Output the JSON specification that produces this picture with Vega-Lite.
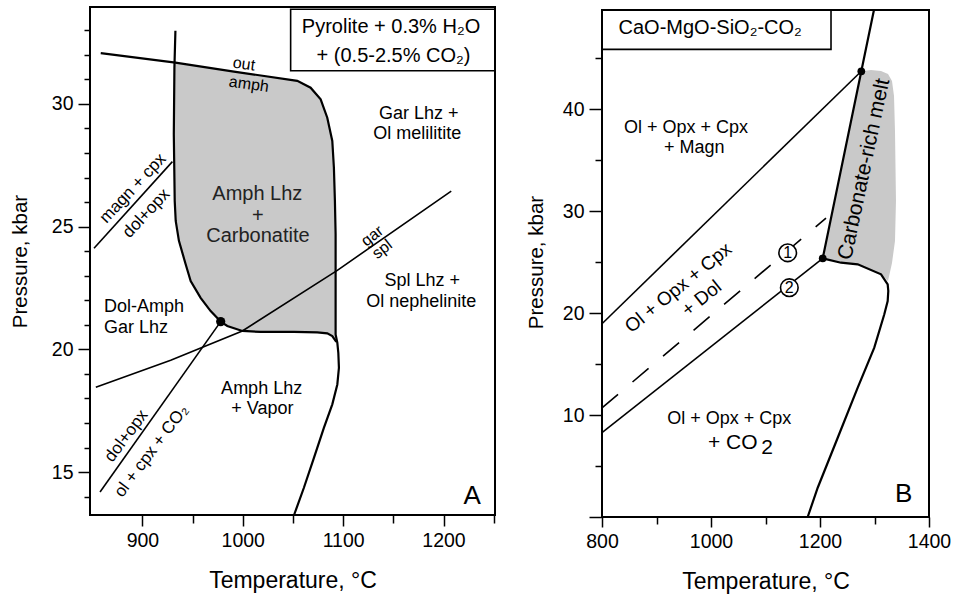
{
  "$schema": "https://vega.github.io/schema/vega-lite/v6.json",
  "background": "white",
  "padding": {"left": 10, "top": 5, "right": 5, "bottom": 5},
  "spacing": 107,
  "bounds": "flush",
  "config": {
    "font": "Liberation Sans",
    "view": {"stroke": null},
    "axis": {
      "domain": false, "grid": false, "tickColor": "black", "tickWidth": 1.5,
      "labelFont": "Liberation Sans", "labelFontSize": 19.5, "labelColor": "black",
      "labelOverlap": false, "labelFlush": false, "tickCount": 200,
      "titleFont": "Liberation Sans", "titleFontWeight": "normal", "titleColor": "black"
    }
  },
  "datasets": {
    "leftLines": [
      {"curve": "amph", "i": 0, "T": 858.5, "P": 32.07},
      {"curve": "amph", "i": 1, "T": 932.9, "P": 31.68},
      {"curve": "amph", "i": 2, "T": 991.2, "P": 31.32},
      {"curve": "amph", "i": 3, "T": 1054.3, "P": 30.94},
      {"curve": "amph", "i": 4, "T": 1067.6, "P": 30.66},
      {"curve": "amph", "i": 5, "T": 1077.6, "P": 30.19},
      {"curve": "amph", "i": 6, "T": 1084.2, "P": 29.44},
      {"curve": "amph", "i": 7, "T": 1089.2, "P": 28.49},
      {"curve": "amph", "i": 8, "T": 1090.8, "P": 27.40},
      {"curve": "amph", "i": 9, "T": 1091.8, "P": 26.05},
      {"curve": "amph", "i": 10, "T": 1092.5, "P": 24.69},
      {"curve": "amph", "i": 11, "T": 1092.5, "P": 21.97},
      {"curve": "amph", "i": 12, "T": 1092.5, "P": 20.61},
      {"curve": "amph", "i": 13, "T": 1094.2, "P": 20.27},
      {"curve": "amph", "i": 14, "T": 1095.2, "P": 19.86},
      {"curve": "amph", "i": 15, "T": 1095.8, "P": 19.25},
      {"curve": "amph", "i": 16, "T": 1094.2, "P": 18.57},
      {"curve": "amph", "i": 17, "T": 1089.2, "P": 17.76},
      {"curve": "amph", "i": 18, "T": 1080.8, "P": 16.80},
      {"curve": "amph", "i": 19, "T": 1070.9, "P": 15.58},
      {"curve": "amph", "i": 20, "T": 1060.9, "P": 14.36},
      {"curve": "amph", "i": 21, "T": 1051.1, "P": 13.25},
      {"curve": "left", "i": 0, "T": 932.9, "P": 32.98},
      {"curve": "left", "i": 1, "T": 931.9, "P": 31.48},
      {"curve": "left", "i": 2, "T": 931.3, "P": 28.76},
      {"curve": "left", "i": 3, "T": 932.2, "P": 26.05},
      {"curve": "left", "i": 4, "T": 933.2, "P": 25.23},
      {"curve": "left", "i": 5, "T": 936.4, "P": 24.42},
      {"curve": "left", "i": 6, "T": 943.1, "P": 23.47},
      {"curve": "left", "i": 7, "T": 948.1, "P": 22.78},
      {"curve": "left", "i": 8, "T": 958.0, "P": 22.10},
      {"curve": "left", "i": 9, "T": 968.0, "P": 21.56},
      {"curve": "left", "i": 10, "T": 978.0, "P": 21.13},
      {"curve": "bottom", "i": 0, "T": 978.0, "P": 21.13},
      {"curve": "bottom", "i": 1, "T": 984.6, "P": 20.95},
      {"curve": "bottom", "i": 2, "T": 999.6, "P": 20.75},
      {"curve": "bottom", "i": 3, "T": 1017.8, "P": 20.71},
      {"curve": "bottom", "i": 4, "T": 1051.0, "P": 20.71},
      {"curve": "bottom", "i": 5, "T": 1074.2, "P": 20.69},
      {"curve": "bottom", "i": 6, "T": 1084.2, "P": 20.65},
      {"curve": "bottom", "i": 7, "T": 1089.2, "P": 20.54},
      {"curve": "bottom", "i": 8, "T": 1093.2, "P": 20.30},
      {"curve": "garspl", "i": 0, "T": 853.6, "P": 18.46},
      {"curve": "garspl", "i": 1, "T": 928.2, "P": 19.56},
      {"curve": "garspl", "i": 2, "T": 999.6, "P": 20.75},
      {"curve": "garspl", "i": 3, "T": 1094.2, "P": 23.22},
      {"curve": "garspl", "i": 4, "T": 1207.7, "P": 26.45},
      {"curve": "magn", "i": 0, "T": 851.8, "P": 24.12},
      {"curve": "magn", "i": 1, "T": 929.9, "P": 27.65},
      {"curve": "dol", "i": 0, "T": 857.8, "P": 14.19},
      {"curve": "dol", "i": 1, "T": 978.0, "P": 21.13}
    ],
    "leftFill": [
      {"i": 0, "T": 932.9, "P": 31.68},
      {"i": 1, "T": 991.2, "P": 31.32},
      {"i": 2, "T": 1054.3, "P": 30.94},
      {"i": 3, "T": 1067.6, "P": 30.66},
      {"i": 4, "T": 1077.6, "P": 30.19},
      {"i": 5, "T": 1084.2, "P": 29.44},
      {"i": 6, "T": 1089.2, "P": 28.49},
      {"i": 7, "T": 1090.8, "P": 27.40},
      {"i": 8, "T": 1091.8, "P": 26.05},
      {"i": 9, "T": 1092.5, "P": 24.69},
      {"i": 10, "T": 1092.5, "P": 21.97},
      {"i": 11, "T": 1092.5, "P": 20.61},
      {"i": 12, "T": 1093.2, "P": 20.30},
      {"i": 13, "T": 1089.2, "P": 20.54},
      {"i": 14, "T": 1084.2, "P": 20.65},
      {"i": 15, "T": 1074.2, "P": 20.69},
      {"i": 16, "T": 1051.0, "P": 20.71},
      {"i": 17, "T": 1017.8, "P": 20.71},
      {"i": 18, "T": 999.6, "P": 20.75},
      {"i": 19, "T": 984.6, "P": 20.95},
      {"i": 20, "T": 978.0, "P": 21.13},
      {"i": 21, "T": 968.0, "P": 21.56},
      {"i": 22, "T": 958.0, "P": 22.10},
      {"i": 23, "T": 948.1, "P": 22.78},
      {"i": 24, "T": 943.1, "P": 23.47},
      {"i": 25, "T": 936.4, "P": 24.42},
      {"i": 26, "T": 933.2, "P": 25.23},
      {"i": 27, "T": 932.2, "P": 26.05},
      {"i": 28, "T": 931.3, "P": 28.76},
      {"i": 29, "T": 931.9, "P": 31.48}
    ],
    "leftLabels": [
      {"g": "reg18", "T": 1175.4, "P": 29.58, "label": "Gar Lhz +"},
      {"g": "reg18", "T": 1173.8, "P": 28.76, "label": "Ol melilitite"},
      {"g": "reg18", "T": 1178.8, "P": 22.78, "label": "Spl Lhz +"},
      {"g": "reg18", "T": 1177.8, "P": 21.94, "label": "Ol nephelinite"},
      {"g": "reg18", "T": 1018.8, "P": 18.37, "label": "Amph Lhz"},
      {"g": "reg18", "T": 1019.5, "P": 17.55, "label": "+ Vapor"},
      {"g": "reg20", "T": 1014.5, "P": 26.32, "label": "Amph Lhz"},
      {"g": "reg20", "T": 1015.1, "P": 25.43, "label": "+"},
      {"g": "reg20", "T": 1015.1, "P": 24.62, "label": "Carbonatite"},
      {"g": "regLeft", "T": 861.8, "P": 21.72, "label": "Dol-Amph"},
      {"g": "regLeft", "T": 861.8, "P": 20.88, "label": "Gar Lhz"},
      {"g": "amph", "T": 1001.2, "P": 31.62, "label": "out"},
      {"g": "amph", "T": 1006.1, "P": 30.80, "label": "amph"},
      {"g": "magn", "T": 890.6, "P": 26.56, "label": "magn + cpx"},
      {"g": "magn", "T": 904.0, "P": 25.54, "label": "dol+opx"},
      {"g": "gar", "T": 1129.0, "P": 24.62, "label": "gar"},
      {"g": "gar", "T": 1139.0, "P": 24.08, "label": "spl"},
      {"g": "dol", "T": 884.1, "P": 16.47, "label": "dol+opx"},
      {"g": "dol", "T": 909.0, "P": 15.85, "label": "ol + cpx + CO₂"},
      {"g": "panel", "T": 1228.6, "P": 14.02, "label": "A"},
      {"g": "box", "T": 1147.7, "P": 32.91, "label": "Pyrolite + 0.3% H₂O"},
      {"g": "box", "T": 1150.2, "P": 31.71, "label": "+ (0.5-2.5% CO₂)"}
    ],
    "rightLines": [
      {"curve": "magn", "i": 0, "T": 800, "P": 18.95},
      {"curve": "magn", "i": 1, "T": 1275.8, "P": 43.7},
      {"curve": "sol", "i": 0, "T": 1299.0, "P": 49.7},
      {"curve": "sol", "i": 1, "T": 1275.8, "P": 43.7},
      {"curve": "sol", "i": 2, "T": 1205.0, "P": 25.36},
      {"curve": "melt", "i": 0, "T": 1205.0, "P": 25.36},
      {"curve": "melt", "i": 1, "T": 1238.5, "P": 24.93},
      {"curve": "melt", "i": 2, "T": 1269.2, "P": 24.77},
      {"curve": "melt", "i": 3, "T": 1312.0, "P": 23.79},
      {"curve": "melt", "i": 4, "T": 1324.2, "P": 22.81},
      {"curve": "melt", "i": 5, "T": 1325.3, "P": 22.16},
      {"curve": "melt", "i": 6, "T": 1324.2, "P": 21.18},
      {"curve": "melt", "i": 7, "T": 1318.0, "P": 19.87},
      {"curve": "melt", "i": 8, "T": 1299.6, "P": 16.6},
      {"curve": "melt", "i": 9, "T": 1269.2, "P": 12.68},
      {"curve": "melt", "i": 10, "T": 1232.5, "P": 7.77},
      {"curve": "melt", "i": 11, "T": 1195.8, "P": 2.87},
      {"curve": "melt", "i": 12, "T": 1177.4, "P": 0},
      {"curve": "two", "i": 0, "T": 800, "P": 8.27},
      {"curve": "two", "i": 1, "T": 1205.0, "P": 25.36},
      {"curve": "one", "i": 0, "T": 800, "P": 10.7},
      {"curve": "one", "i": 1, "T": 1211.0, "P": 29.3}
    ],
    "rightFill": [
      {"i": 0, "T": 1205.0, "P": 25.36},
      {"i": 1, "T": 1275.8, "P": 43.7},
      {"i": 2, "T": 1293.6, "P": 43.82},
      {"i": 3, "T": 1311.9, "P": 43.73},
      {"i": 4, "T": 1324.8, "P": 43.43},
      {"i": 5, "T": 1332.1, "P": 42.75},
      {"i": 6, "T": 1335.8, "P": 41.27},
      {"i": 7, "T": 1337.6, "P": 37.84},
      {"i": 8, "T": 1339.4, "P": 30.98},
      {"i": 9, "T": 1337.6, "P": 27.06},
      {"i": 10, "T": 1332.1, "P": 24.9},
      {"i": 11, "T": 1324.8, "P": 23.14},
      {"i": 12, "T": 1312.0, "P": 23.79},
      {"i": 13, "T": 1269.2, "P": 24.77},
      {"i": 14, "T": 1238.5, "P": 24.93}
    ],
    "rightLabels": [
      {"g": "reg18", "T": 954.1, "P": 38.17, "label": "Ol + Opx + Cpx"},
      {"g": "reg18", "T": 969.4, "P": 36.2, "label": "+ Magn"},
      {"g": "reg18", "T": 1033.6, "P": 9.58, "label": "Ol + Opx + Cpx"},
      {"g": "co2", "T": 1039.8, "P": 7.28, "label": "+ CO"},
      {"g": "co2", "T": 1103.0, "P": 6.8, "label": "2"},
      {"g": "dolR", "T": 940.0, "P": 22.48, "label": "Ol + Opx + Cpx"},
      {"g": "dolR", "T": 982.9, "P": 21.44, "label": "+ Dol"},
      {"g": "melt", "T": 1281.3, "P": 34.09, "label": "Carbonate-rich melt"},
      {"g": "panel", "T": 1353.6, "P": 2.23, "label": "B"},
      {"g": "box", "T": 998.5, "P": 47.32, "label": "CaO-MgO-SiO₂-CO₂"}
    ],
    "rightCircles": [
      {"T": 1140.7, "P": 25.9, "label": "1"},
      {"T": 1143.7, "P": 22.48, "label": "2"}
    ],
    "rightDots": [
      {"T": 1275.8, "P": 43.7},
      {"T": 1205.0, "P": 25.36}
    ],
    "leftDots": [
      {"T": 978.0, "P": 21.13}
    ]
  },
  "hconcat": [
    {
      "width": 405,
      "height": 508,
      "layer": [
        {
          "data": {"name": "leftFill"},
          "mark": {"type": "line", "fill": "#c9c9c9", "strokeWidth": 0, "interpolate": "linear"},
          "encoding": {
            "x": {"field": "T", "type": "quantitative",
              "scale": {"domain": [847.8, 1251.3], "nice": false, "zero": false},
              "axis": {"title": "Temperature, °C", "titleFontSize": 23, "values": [900, 950, 1000, 1050, 1100, 1150, 1200, 1250],
                "format": "d", "labelExpr": "datum.value % 100 === 0 ? datum.label : ''", "labelOverlap": false, "tickCount": 200,
                "tickSize": {"condition": {"test": "datum.value % 100 === 0", "value": 11}, "value": 8},
                "labelPadding": 5, "titlePadding": 20}},
            "y": {"field": "P", "type": "quantitative",
              "scale": {"domain": [13.25, 33.95], "nice": false, "zero": false},
              "axis": {"title": "Pressure, kbar", "titleFontSize": 20.5,
                "values": [14, 15, 16, 17, 18, 19, 20, 21, 22, 23, 24, 25, 26, 27, 28, 29, 30, 31, 32, 33],
                "format": "d", "labelExpr": "datum.value % 5 === 0 ? datum.label : ''", "labelOverlap": false, "tickCount": 200,
                "tickSize": {"condition": {"test": "datum.value % 5 === 0", "value": 12}, "value": 6},
                "labelPadding": 5, "titlePadding": 21}},
            "order": {"field": "i", "type": "quantitative"}
          }
        },
        {
          "data": {"name": "leftLines"},
          "transform": [{"filter": "datum.curve === 'amph' || datum.curve === 'left' || datum.curve === 'bottom'"}],
          "mark": {"type": "line", "color": "black", "strokeWidth": 2.2},
          "encoding": {
            "x": {"field": "T", "type": "quantitative"},
            "y": {"field": "P", "type": "quantitative"},
            "detail": {"field": "curve"},
            "order": {"field": "i", "type": "quantitative"}
          }
        },
        {
          "data": {"name": "leftLines"},
          "transform": [{"filter": "datum.curve === 'garspl' || datum.curve === 'magn' || datum.curve === 'dol'"}],
          "mark": {"type": "line", "color": "black", "strokeWidth": 1.6},
          "encoding": {
            "x": {"field": "T", "type": "quantitative"},
            "y": {"field": "P", "type": "quantitative"},
            "detail": {"field": "curve"},
            "order": {"field": "i", "type": "quantitative"}
          }
        },
        {
          "data": {"name": "leftDots"},
          "mark": {"type": "point", "shape": "circle", "filled": true, "color": "black", "size": 85, "opacity": 1},
          "encoding": {
            "x": {"field": "T", "type": "quantitative"},
            "y": {"field": "P", "type": "quantitative"}
          }
        },
        {
          "data": {"values": [{}]},
          "mark": {"type": "rect", "fill": "white", "stroke": "black", "strokeWidth": 1.6},
          "encoding": {
            "x": {"datum": 1047.7}, "x2": {"datum": 1251.3},
            "y": {"datum": 31.35}, "y2": {"datum": 33.86}
          }
        },
        {
          "data": {"values": [{}]},
          "mark": {"type": "rect", "filled": false, "color": "black", "strokeWidth": 2},
          "encoding": {
            "x": {"datum": 847.8}, "x2": {"datum": 1251.3},
            "y": {"datum": 13.25}, "y2": {"datum": 33.95}
          }
        },
        {
          "data": {"name": "leftLabels"},
          "transform": [{"filter": "datum.g === 'reg18'"}],
          "mark": {"type": "text", "fontSize": 18, "align": "center", "baseline": "middle", "color": "black"},
          "encoding": {"x": {"field": "T", "type": "quantitative"}, "y": {"field": "P", "type": "quantitative"}, "text": {"field": "label"}}
        },
        {
          "data": {"name": "leftLabels"},
          "transform": [{"filter": "datum.g === 'reg20'"}],
          "mark": {"type": "text", "fontSize": 20, "align": "center", "baseline": "middle", "color": "#222"},
          "encoding": {"x": {"field": "T", "type": "quantitative"}, "y": {"field": "P", "type": "quantitative"}, "text": {"field": "label"}}
        },
        {
          "data": {"name": "leftLabels"},
          "transform": [{"filter": "datum.g === 'regLeft'"}],
          "mark": {"type": "text", "fontSize": 18, "align": "left", "baseline": "middle", "color": "black"},
          "encoding": {"x": {"field": "T", "type": "quantitative"}, "y": {"field": "P", "type": "quantitative"}, "text": {"field": "label"}}
        },
        {
          "data": {"name": "leftLabels"},
          "transform": [{"filter": "datum.g === 'amph'"}],
          "mark": {"type": "text", "fontSize": 16, "angle": 8, "align": "center", "baseline": "middle", "color": "black"},
          "encoding": {"x": {"field": "T", "type": "quantitative"}, "y": {"field": "P", "type": "quantitative"}, "text": {"field": "label"}}
        },
        {
          "data": {"name": "leftLabels"},
          "transform": [{"filter": "datum.g === 'magn'"}],
          "mark": {"type": "text", "fontSize": 17, "angle": -47, "align": "center", "baseline": "middle", "color": "black"},
          "encoding": {"x": {"field": "T", "type": "quantitative"}, "y": {"field": "P", "type": "quantitative"}, "text": {"field": "label"}}
        },
        {
          "data": {"name": "leftLabels"},
          "transform": [{"filter": "datum.g === 'gar'"}],
          "mark": {"type": "text", "fontSize": 16, "angle": -38, "align": "center", "baseline": "middle", "color": "black"},
          "encoding": {"x": {"field": "T", "type": "quantitative"}, "y": {"field": "P", "type": "quantitative"}, "text": {"field": "label"}}
        },
        {
          "data": {"name": "leftLabels"},
          "transform": [{"filter": "datum.g === 'dol'"}],
          "mark": {"type": "text", "fontSize": 17, "angle": -53, "align": "center", "baseline": "middle", "color": "black"},
          "encoding": {"x": {"field": "T", "type": "quantitative"}, "y": {"field": "P", "type": "quantitative"}, "text": {"field": "label"}}
        },
        {
          "data": {"name": "leftLabels"},
          "transform": [{"filter": "datum.g === 'panel'"}],
          "mark": {"type": "text", "fontSize": 26, "align": "center", "baseline": "middle", "color": "black"},
          "encoding": {"x": {"field": "T", "type": "quantitative"}, "y": {"field": "P", "type": "quantitative"}, "text": {"field": "label"}}
        },
        {
          "data": {"name": "leftLabels"},
          "transform": [{"filter": "datum.g === 'box'"}],
          "mark": {"type": "text", "fontSize": 20, "align": "center", "baseline": "alphabetic", "color": "black"},
          "encoding": {"x": {"field": "T", "type": "quantitative"}, "y": {"field": "P", "type": "quantitative"}, "text": {"field": "label"}}
        }
      ]
    },
    {
      "width": 327,
      "height": 510,
      "layer": [
        {
          "data": {"name": "rightFill"},
          "mark": {"type": "line", "fill": "#c9c9c9", "strokeWidth": 0, "interpolate": "linear"},
          "encoding": {
            "x": {"field": "T", "type": "quantitative",
              "scale": {"domain": [800, 1400], "nice": false, "zero": false},
              "axis": {"title": "Temperature, °C", "titleFontSize": 23, "values": [800, 900, 1000, 1100, 1200, 1300, 1400],
                "format": "d", "labelExpr": "datum.value % 200 === 0 ? datum.label : ''", "labelOverlap": false, "tickCount": 200,
                "tickSize": {"condition": {"test": "datum.value % 200 === 0", "value": 10}, "value": 7},
                "labelPadding": 5, "titlePadding": 20}},
            "y": {"field": "P", "type": "quantitative",
              "scale": {"domain": [0, 50], "nice": false, "zero": false},
              "axis": {"title": "Pressure, kbar", "titleFontSize": 20.5,
                "values": [0, 5, 10, 15, 20, 25, 30, 35, 40, 45],
                "format": "d", "labelExpr": "datum.value > 0 && datum.value % 10 === 0 ? datum.label : ''", "labelOverlap": false, "tickCount": 200,
                "tickSize": {"condition": {"test": "datum.value % 10 === 0", "value": 13}, "value": 7},
                "labelPadding": 5, "titlePadding": 16}},
            "order": {"field": "i", "type": "quantitative"}
          }
        },
        {
          "data": {"name": "rightLines"},
          "transform": [{"filter": "datum.curve === 'sol' || datum.curve === 'melt'"}],
          "mark": {"type": "line", "color": "black", "strokeWidth": 2.2},
          "encoding": {
            "x": {"field": "T", "type": "quantitative"},
            "y": {"field": "P", "type": "quantitative"},
            "detail": {"field": "curve"},
            "order": {"field": "i", "type": "quantitative"}
          }
        },
        {
          "data": {"name": "rightLines"},
          "transform": [{"filter": "datum.curve === 'magn' || datum.curve === 'two'"}],
          "mark": {"type": "line", "color": "black", "strokeWidth": 1.6},
          "encoding": {
            "x": {"field": "T", "type": "quantitative"},
            "y": {"field": "P", "type": "quantitative"},
            "detail": {"field": "curve"},
            "order": {"field": "i", "type": "quantitative"}
          }
        },
        {
          "data": {"name": "rightLines"},
          "transform": [{"filter": "datum.curve === 'one'"}],
          "mark": {"type": "line", "color": "black", "strokeWidth": 1.6, "strokeDash": [21, 19]},
          "encoding": {
            "x": {"field": "T", "type": "quantitative"},
            "y": {"field": "P", "type": "quantitative"},
            "order": {"field": "i", "type": "quantitative"}
          }
        },
        {
          "data": {"name": "rightDots"},
          "mark": {"type": "point", "shape": "circle", "filled": true, "color": "black", "size": 60, "opacity": 1},
          "encoding": {
            "x": {"field": "T", "type": "quantitative"},
            "y": {"field": "P", "type": "quantitative"}
          }
        },
        {
          "data": {"name": "rightCircles"},
          "mark": {"type": "point", "shape": "circle", "fill": "white", "stroke": "black", "strokeWidth": 1.6, "size": 310, "opacity": 1, "fillOpacity": 1},
          "encoding": {
            "x": {"field": "T", "type": "quantitative"},
            "y": {"field": "P", "type": "quantitative"}
          }
        },
        {
          "data": {"name": "rightCircles"},
          "mark": {"type": "text", "fontSize": 16, "align": "center", "baseline": "middle", "color": "black"},
          "encoding": {
            "x": {"field": "T", "type": "quantitative"},
            "y": {"field": "P", "type": "quantitative"},
            "text": {"field": "label"}
          }
        },
        {
          "data": {"values": [{}]},
          "mark": {"type": "rect", "fill": "white", "stroke": "black", "strokeWidth": 1.6},
          "encoding": {
            "x": {"datum": 800}, "x2": {"datum": 1220.2},
            "y": {"datum": 45.85}, "y2": {"datum": 49.7}
          }
        },
        {
          "data": {"values": [{}]},
          "mark": {"type": "rect", "filled": false, "color": "black", "strokeWidth": 2},
          "encoding": {
            "x": {"datum": 800}, "x2": {"datum": 1400},
            "y": {"datum": 0}, "y2": {"datum": 49.7}
          }
        },
        {
          "data": {"name": "rightLabels"},
          "transform": [{"filter": "datum.g === 'reg18'"}],
          "mark": {"type": "text", "fontSize": 18, "align": "center", "baseline": "middle", "color": "black"},
          "encoding": {"x": {"field": "T", "type": "quantitative"}, "y": {"field": "P", "type": "quantitative"}, "text": {"field": "label"}}
        },
        {
          "data": {"name": "rightLabels"},
          "transform": [{"filter": "datum.g === 'co2'"}],
          "mark": {"type": "text", "fontSize": 21, "align": "center", "baseline": "middle", "color": "black"},
          "encoding": {"x": {"field": "T", "type": "quantitative"}, "y": {"field": "P", "type": "quantitative"}, "text": {"field": "label"}}
        },
        {
          "data": {"name": "rightLabels"},
          "transform": [{"filter": "datum.g === 'dolR'"}],
          "mark": {"type": "text", "fontSize": 19, "angle": -39, "align": "center", "baseline": "middle", "color": "black"},
          "encoding": {"x": {"field": "T", "type": "quantitative"}, "y": {"field": "P", "type": "quantitative"}, "text": {"field": "label"}}
        },
        {
          "data": {"name": "rightLabels"},
          "transform": [{"filter": "datum.g === 'melt'"}],
          "mark": {"type": "text", "fontSize": 21, "angle": -78, "align": "center", "baseline": "middle", "color": "black"},
          "encoding": {"x": {"field": "T", "type": "quantitative"}, "y": {"field": "P", "type": "quantitative"}, "text": {"field": "label"}}
        },
        {
          "data": {"name": "rightLabels"},
          "transform": [{"filter": "datum.g === 'panel'"}],
          "mark": {"type": "text", "fontSize": 26, "align": "center", "baseline": "middle", "color": "black"},
          "encoding": {"x": {"field": "T", "type": "quantitative"}, "y": {"field": "P", "type": "quantitative"}, "text": {"field": "label"}}
        },
        {
          "data": {"name": "rightLabels"},
          "transform": [{"filter": "datum.g === 'box'"}],
          "mark": {"type": "text", "fontSize": 20, "align": "center", "baseline": "alphabetic", "color": "black"},
          "encoding": {"x": {"field": "T", "type": "quantitative"}, "y": {"field": "P", "type": "quantitative"}, "text": {"field": "label"}}
        }
      ]
    }
  ]
}
